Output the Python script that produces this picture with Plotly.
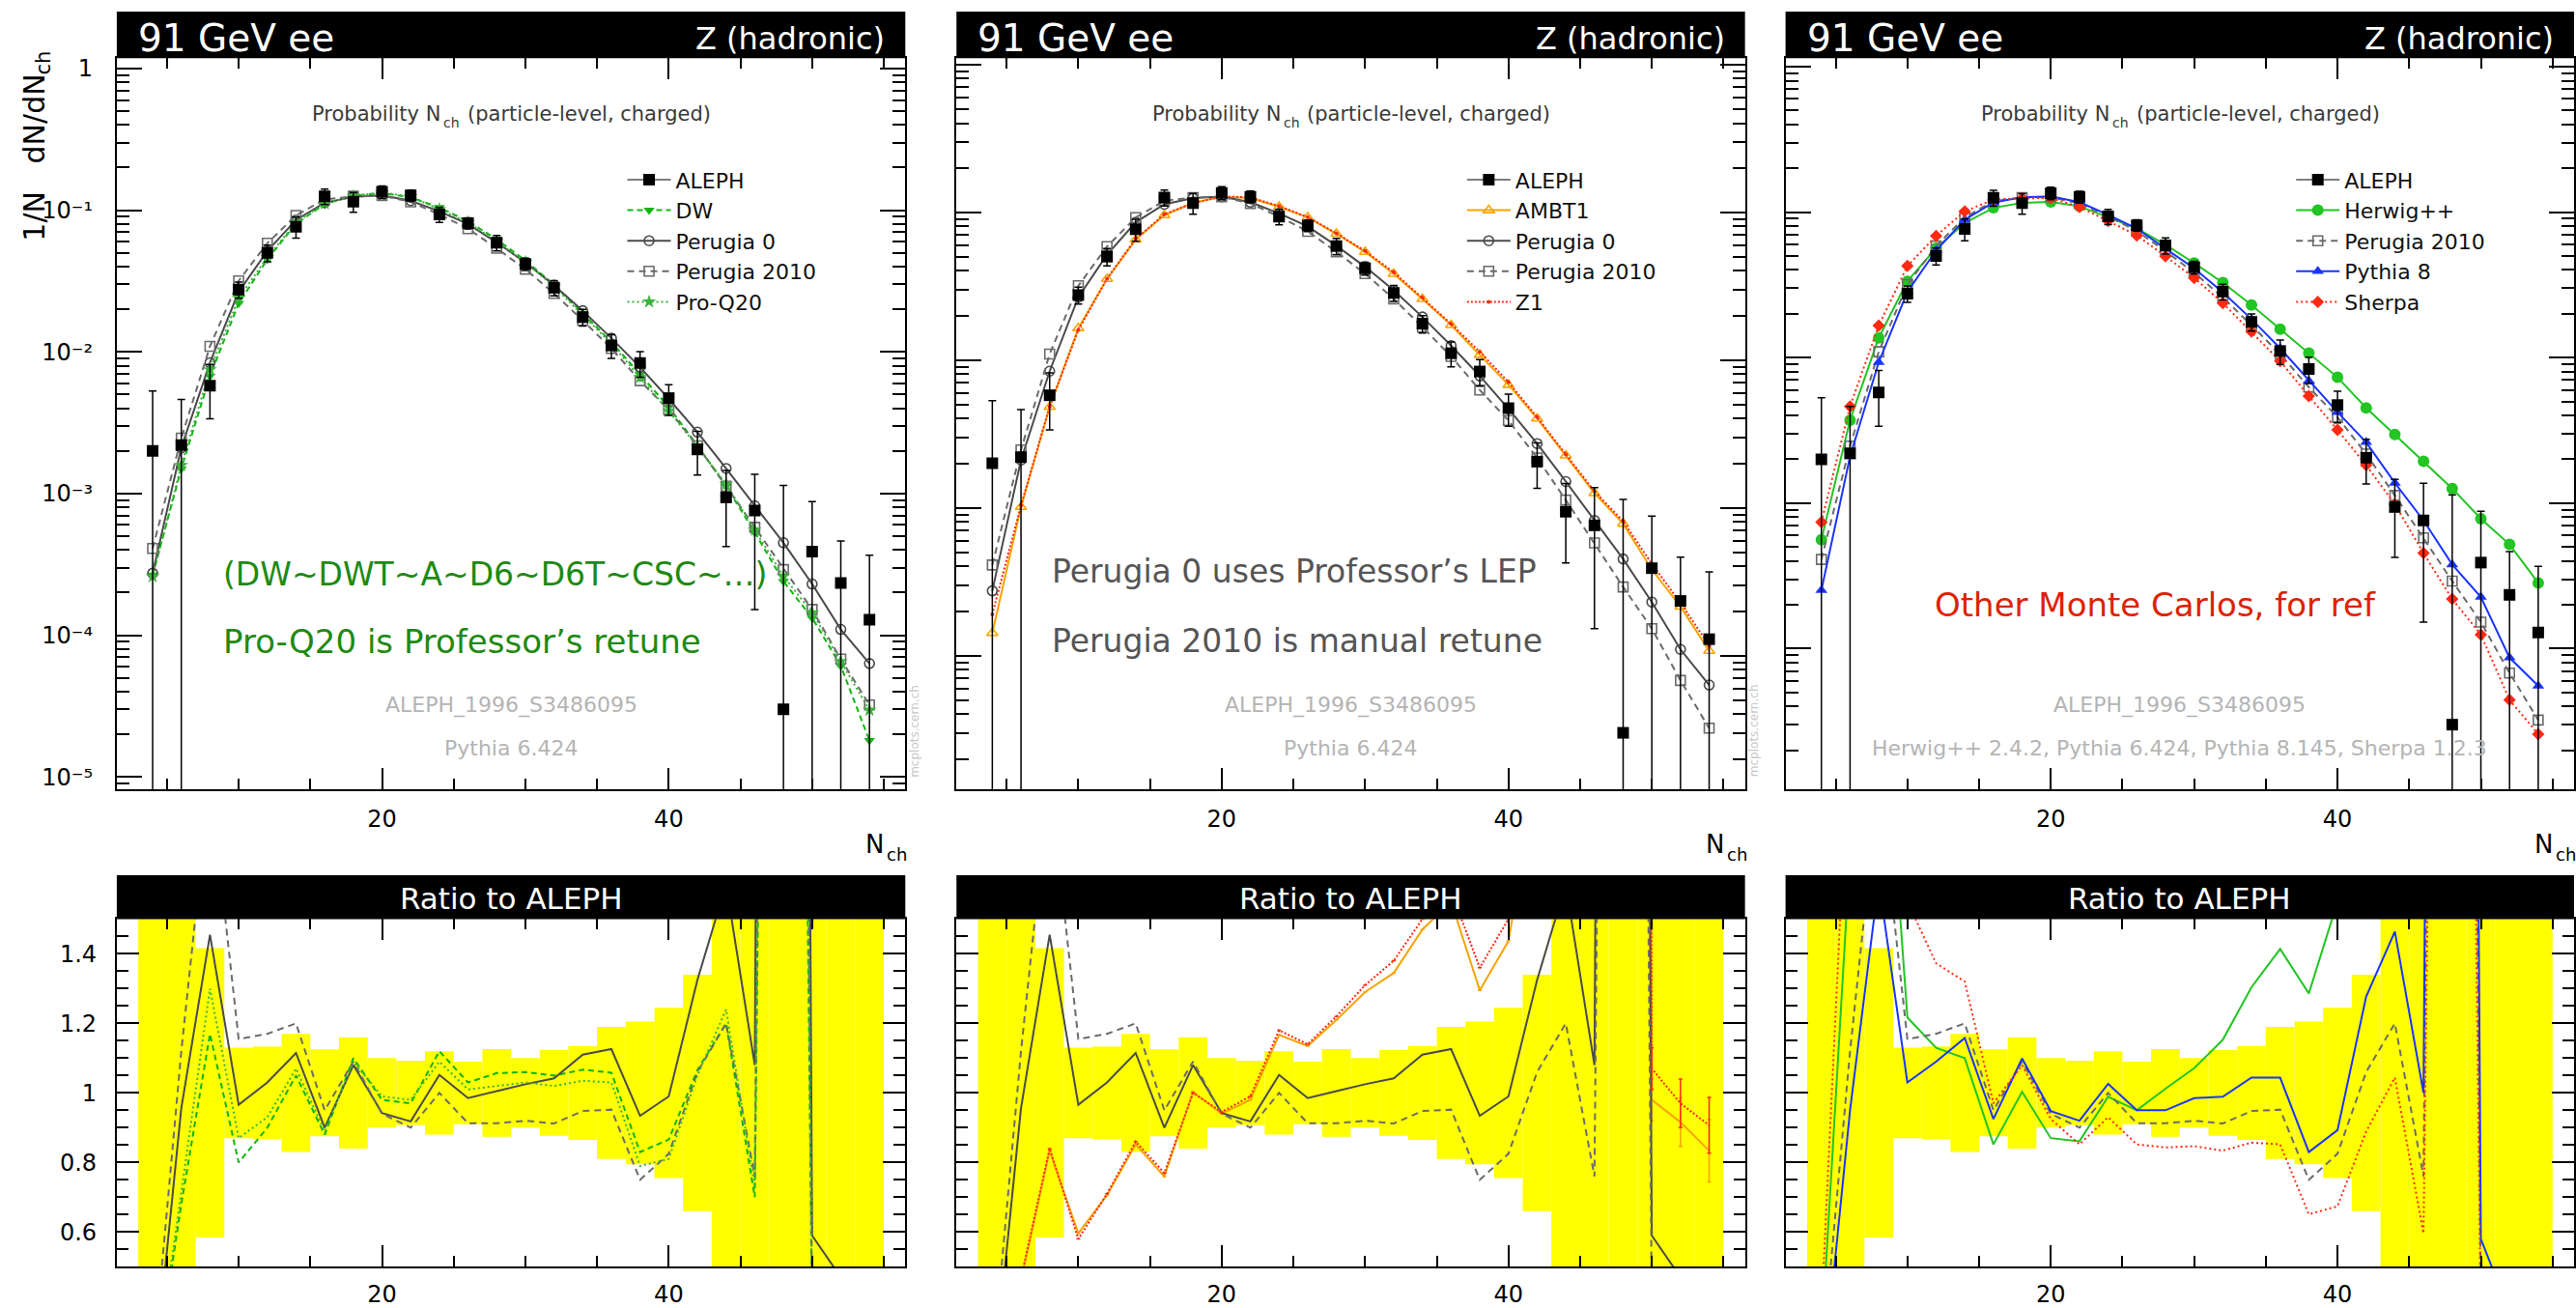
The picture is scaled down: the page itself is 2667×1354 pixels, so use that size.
import plotly.graph_objects as go

# ---------------------------------------------------------------- data
N_CH = [4, 6, 8, 10, 12, 14, 16, 18, 20, 22, 24, 26, 28,
        30, 32, 34, 36, 38, 40, 42, 44, 46, 48, 50, 52, 54]

# ALEPH 1/N dN/dNch and its relative uncertainty
ALEPH = [2.0e-3, 2.2e-3, 5.77e-3, 0.0275, 0.0500, 0.0766, 0.1256, 0.1152, 0.1351, 0.1272,
         0.0933, 0.0812, 0.0590, 0.0417, 0.0284, 0.0176, 0.0111, 0.00835, 0.00472, 0.00205,
         9.4e-4, 7.6e-4, 3.0e-5, 3.9e-4, 2.34e-4, 1.29e-4]
ALEPH_REL_ERR = [1.65, 1.10, 0.416, 0.13, 0.134, 0.17, 0.125, 0.16, 0.10, 0.093,
                 0.12, 0.09, 0.126, 0.10, 0.123, 0.135, 0.19, 0.205, 0.245, 0.34,
                 0.55, 0.80, 37.0, 1.25, 0.98, 1.85]

# generator predictions, expressed as MC / ALEPH
RATIO_DW = [0.133, 0.68, 1.17, 0.80, 0.90, 1.05, 0.88, 1.10, 0.98, 0.97,
            1.12, 1.03, 1.057, 1.06, 1.05, 1.067, 1.058, 0.83, 0.866, 1.066,
            1.20, 0.70, 8.0, 0.34, 0.26, 0.14]
RATIO_PROQ20 = [0.13, 0.72, 1.30, 0.87, 0.93, 1.07, 0.89, 1.09, 0.99, 0.98,
                1.09, 1.01, 1.02, 1.03, 1.02, 1.035, 1.03, 0.79, 0.81, 1.05,
                1.24, 0.73, 8.7, 0.37, 0.28, 0.23]
RATIO_P0 = [0.137, 0.956, 1.455, 0.966, 1.03, 1.115, 0.90, 1.08, 0.942, 0.918,
            1.052, 0.985, 1.005, 1.025, 1.042, 1.11, 1.126, 0.934, 0.99, 1.325,
            1.60, 1.08, 15.0, 0.59, 0.47, 0.49]
RATIO_P2010 = [0.205, 1.12, 1.90, 1.155, 1.17, 1.20, 0.95, 1.09, 0.94, 0.90,
               1.0, 0.913, 0.913, 0.92, 0.912, 0.948, 0.952, 0.75, 0.825, 1.06,
               1.20, 0.76, 9.7, 0.39, 0.29, 0.25]
RATIO_AMBT1 = [0.071, 0.46, 0.834, 0.596, 0.706, 0.852, 0.76, 1.003, 0.94, 0.98,
               1.167, 1.135, 1.21, 1.29, 1.345, 1.47, 1.55, 1.295, 1.437, 1.96,
               2.4, 1.65, 26.0, 0.98, 0.916, 0.834]
RATIO_Z1 = [0.095, 0.47, 0.84, 0.58, 0.71, 0.86, 0.77, 1.0, 0.945, 0.99,
            1.18, 1.14, 1.22, 1.31, 1.38, 1.5, 1.58, 1.36, 1.5, 2.0,
            2.45, 1.7, 27.0, 1.07, 0.97, 0.907]
RATIO_HERWIG = [0.28, 1.69, 2.37, 1.217, 1.13, 1.10, 0.852, 1.003, 0.87, 0.861,
                0.989, 0.95, 1.012, 1.071, 1.153, 1.304, 1.414, 1.286, 1.55, 2.2,
                3.15, 2.55, 42.0, 2.0, 2.22, 2.19]
RATIO_PYTHIA8 = [0.126, 0.95, 1.61, 1.03, 1.09, 1.158, 0.925, 1.099, 0.948, 0.92,
                 1.026, 0.95, 0.95, 0.985, 0.989, 1.044, 1.044, 0.83, 0.893, 1.277,
                 1.464, 1.0, 12.6, 0.58, 0.37, 0.43]
RATIO_SHERPA = [0.37, 2.1, 2.88, 1.55, 1.373, 1.32, 0.97, 1.08, 0.925, 0.852,
                0.93, 0.852, 0.843, 0.847, 0.834, 0.857, 0.852, 0.651, 0.674, 0.889,
                1.044, 0.596, 7.3, 0.32, 0.19, 0.20]

# MC statistical uncertainty on the ratio (only significant in the tail)
RATIO_ERR_AMBT1 = [0, 0, 0, 0, 0, 0, 0, 0, 0, 0, 0, 0, 0,
                   0, 0, 0, 0, 0, 0, 0, 0, 0, 0, 0.06, 0.07, 0.09]
RATIO_ERR_Z1 = [0, 0, 0, 0, 0, 0, 0, 0, 0, 0, 0, 0, 0,
                0, 0, 0, 0, 0, 0, 0, 0, 0, 0, 0.06, 0.07, 0.08]

X_TICKS = [20, 40]
LOG_TICKS = [1, 0.1, 0.01, 0.001, 1e-4, 1e-5]
LOG_TICK_TEXT = ["1", "10⁻¹", "10⁻²", "10⁻³", "10⁻⁴", "10⁻⁵"]
RATIO_TICKS = [0.6, 0.8, 1.0, 1.2, 1.4]
RATIO_TICK_TEXT = ["0.6", "0.8", "1", "1.2", "1.4"]

# ---------------------------------------------------------------- geometry (px)
W, H = 2667, 1354
FONT = "DejaVu Sans"
PANEL_X = [(121, 938), (991, 1808), (1850, 2667)]
MAIN_Y = (58, 823)
RATIO_Y = (959, 1323)
HEAD_MAIN = (9, 58)
HEAD_RATIO = (913, 959)
LOG_RANGES = [(-5.086, 0.0725), (-4.904, 0.041), (-4.966, 0.057)]
X_RANGE = [1.5, 56.5]


def fx(p):
    return p / W


def fy(p):
    return 1 - p / H


GRAY0 = "#4a4a4a"
GRAY1 = "#6b6b6b"
S_P0 = dict(name="Perugia 0", ratio=RATIO_P0, color=GRAY0, dash="solid",
            symbol="circle-open", size=10)
S_P2010 = dict(name="Perugia 2010", ratio=RATIO_P2010, color=GRAY1, dash="7px,5px",
               symbol="square-open", size=10)

PANELS = [
    dict(series=[
        dict(name="DW", ratio=RATIO_DW, color="#12b512", dash="6px,4px",
             symbol="triangle-down", size=10),
        S_P0, S_P2010,
        dict(name="Pro-Q20", ratio=RATIO_PROQ20, color="#3cb43c", dash="2px,3px",
             symbol="star", size=11),
    ], gen_text="Pythia 6.424",
        notes=[("(DW~DWT~A~D6~D6T~CSC~…)", 230, 598, "#1e8a12", 33),
               ("Pro-Q20 is Professor’s retune", 230, 668, "#1e8a12", 34)]),
    dict(series=[
        dict(name="AMBT1", ratio=RATIO_AMBT1, color="#f7a400", dash="solid",
             symbol="triangle-up-open", size=10, err=RATIO_ERR_AMBT1),
        S_P0, S_P2010,
        dict(name="Z1", ratio=RATIO_Z1, color="#ff2a12", dash="2px,2px",
             symbol="circle", size=4, err=RATIO_ERR_Z1),
    ], gen_text="Pythia 6.424",
        notes=[("Perugia 0 uses Professor’s LEP", 1089, 595, "#555555", 33),
               ("Perugia 2010 is manual retune", 1089, 668, "#555555", 33)]),
    dict(series=[
        dict(name="Herwig++", ratio=RATIO_HERWIG, color="#22c522", dash="solid",
             symbol="circle", size=12),
        S_P2010,
        dict(name="Pythia 8", ratio=RATIO_PYTHIA8, color="#1a34ff", dash="solid",
             symbol="triangle-up", size=11),
        dict(name="Sherpa", ratio=RATIO_SHERPA, color="#ff2a12", dash="2px,3px",
             symbol="diamond", size=10),
    ], gen_text="Herwig++ 2.4.2, Pythia 6.424, Pythia 8.145, Sherpa 1.2.3",
        notes=[("Other Monte Carlos, for ref", 2004, 630, "#dd2200", 34)]),
]

fig = go.Figure()
shapes = []
annotations = []
layout_axes = {}
LEGEND_X = [645, 1515, 2374]


def ann(text, x, y, size, color, xanchor="center", yanchor="middle", angle=0):
    annotations.append(dict(text=text, x=fx(x), y=fy(y), xref="paper", yref="paper",
                            showarrow=False, xanchor=xanchor, yanchor=yanchor,
                            textangle=angle, borderpad=0,
                            font=dict(family=FONT, size=size, color=color)))


def axis_name(kind, idx):
    return kind if idx == 1 else f"{kind}{idx}"


for i, panel in enumerate(PANELS):
    im, ir = 2 * i + 1, 2 * i + 2
    xm, ym = axis_name("x", im), axis_name("y", im)
    xr, yr = axis_name("x", ir), axis_name("y", ir)
    leg = "legend" if i == 0 else f"legend{i + 1}"
    x0, x1 = PANEL_X[i]
    xdom = [fx(x0), min(fx(x1), 1.0)]

    # ---- main panel: generator curves
    for rank, s in enumerate(panel["series"]):
        mc = [a * r for a, r in zip(ALEPH, s["ratio"])]
        open_sym = s["symbol"].endswith("open")
        fig.add_trace(go.Scatter(
            x=N_CH, y=mc, xaxis=xm, yaxis=ym, mode="lines+markers", name=s["name"],
            legend=leg, legendrank=10 + rank,
            line=dict(color=s["color"], width=2, dash=s["dash"]),
            marker=dict(symbol=s["symbol"], size=s["size"], color=s["color"],
                        line=dict(color=s["color"], width=1.6 if open_sym else 0)),
        ))

    # ---- main panel: ALEPH points with error bars
    fig.add_trace(go.Scatter(
        x=N_CH, y=ALEPH, xaxis=xm, yaxis=ym, mode="markers", showlegend=False,
        marker=dict(symbol="square", size=12, color="black"),
        error_y=dict(type="data", array=[a * e for a, e in zip(ALEPH, ALEPH_REL_ERR)],
                     color="black", thickness=1.5, width=4),
    ))
    fig.add_trace(go.Scatter(
        x=[None], y=[None], xaxis=xm, yaxis=ym, mode="lines+markers", name="ALEPH",
        legend=leg, legendrank=1,
        line=dict(color="black", width=1.2),
        marker=dict(symbol="square", size=12, color="black"),
    ))

    # ---- ratio panel: data uncertainty band
    fig.add_trace(go.Bar(
        x=N_CH, y=[2 * e for e in ALEPH_REL_ERR], base=[1 - e for e in ALEPH_REL_ERR],
        width=2, xaxis=xr, yaxis=yr, showlegend=False,
        marker=dict(color="#ffff00", line=dict(width=0)),
    ))
    for s in panel["series"]:
        err = s.get("err")
        fig.add_trace(go.Scatter(
            x=N_CH, y=s["ratio"], xaxis=xr, yaxis=yr, mode="lines", showlegend=False,
            line=dict(color=s["color"], width=2, dash=s["dash"]),
            error_y=(dict(type="data", array=err, color=s["color"], thickness=1.5, width=2)
                     if err else None),
        ))

    tickfont = dict(family=FONT, size=24, color="black")
    x_common = dict(range=X_RANGE, showline=True, linecolor="black", linewidth=2,
                    mirror="allticks", ticks="inside", ticklen=22, tickwidth=1.5,
                    tickcolor="black", tickmode="array", tickvals=X_TICKS,
                    ticktext=[str(v) for v in X_TICKS], tickfont=tickfont,
                    ticklabelstandoff=8, showgrid=False, zeroline=False,
                    minor=dict(tickmode="array", tickvals=[5, 10, 15, 25, 30, 35, 45, 50, 55],
                               ticks="inside", ticklen=11, tickwidth=1.5, tickcolor="black",
                               showgrid=False))
    log_minor = [k * 10.0 ** e for e in range(-6, 1) for k in range(2, 10)]
    layout_axes[f"xaxis{'' if im == 1 else im}"] = dict(
        x_common, domain=xdom, anchor=ym)
    layout_axes[f"yaxis{'' if im == 1 else im}"] = dict(
        type="log", range=list(LOG_RANGES[i]), domain=[fy(MAIN_Y[1]), fy(MAIN_Y[0])],
        anchor=xm, showline=True, linecolor="black", linewidth=2, mirror="allticks",
        ticks="inside", ticklen=26, tickwidth=1.5, tickcolor="black",
        tickmode="array", tickvals=LOG_TICKS, ticktext=LOG_TICK_TEXT,
        showticklabels=(i == 0), tickfont=tickfont, ticklabelstandoff=18,
        showgrid=False, zeroline=False,
        minor=dict(tickmode="array", tickvals=log_minor, ticks="inside", ticklen=13,
                   tickwidth=1.5, tickcolor="black", showgrid=False))
    layout_axes[f"xaxis{ir}"] = dict(x_common, domain=xdom, anchor=yr, ticklabelstandoff=6)
    layout_axes[f"yaxis{ir}"] = dict(
        range=[0.5, 1.5], domain=[fy(RATIO_Y[1]), fy(RATIO_Y[0])], anchor=xr,
        showline=True, linecolor="black", linewidth=2, mirror="allticks",
        ticks="inside", ticklen=23, tickwidth=1.5, tickcolor="black",
        tickmode="array", tickvals=RATIO_TICKS, ticktext=RATIO_TICK_TEXT,
        showticklabels=(i == 0), tickfont=tickfont, ticklabelstandoff=14,
        showgrid=False, zeroline=False,
        minor=dict(tickmode="array",
                   tickvals=[0.55, 0.65, 0.7, 0.75, 0.85, 0.9, 0.95, 1.05, 1.1, 1.15,
                             1.25, 1.3, 1.35, 1.45],
                   ticks="inside", ticklen=12, tickwidth=1.5, tickcolor="black",
                   showgrid=False))

    layout_axes[leg] = dict(
        x=fx(LEGEND_X[i]), y=fy(164), xanchor="left", yanchor="top",
        bgcolor="rgba(0,0,0,0)", borderwidth=0, itemwidth=45, tracegroupgap=0,
        font=dict(family=FONT, size=22, color="#111111"))

    # ---- black header bars
    for (h0, h1) in (HEAD_MAIN, HEAD_RATIO):
        shapes.append(dict(type="rect", xref="paper", yref="paper",
                           x0=fx(x0), x1=min(fx(x1), 1.0), y0=fy(h1), y1=fy(h0),
                           fillcolor="black", line=dict(width=0), layer="above"))
    ann("91 GeV ee", x0 + 21, 37, 39, "white", xanchor="left")
    ann("Z (hadronic)", x1 - 20, 37, 32, "white", xanchor="right")
    ann("Ratio to ALEPH", (x0 + x1) / 2, 937, 31, "white")

    # panel title with a subscripted N_ch
    cx = (x0 + x1) / 2
    p = cx - 72
    ann("Probability N", p, 116, 21, "#3a3a3a", xanchor="right")
    ann("ch", p + 1, 125, 14, "#3a3a3a", xanchor="left")
    ann("(particle-level, charged)", p + 26, 116, 21, "#3a3a3a", xanchor="left")

    ann("ALEPH_1996_S3486095", cx, 735, 22, "#b4b4b4")
    ann(panel["gen_text"], cx, 780, 22, "#b4b4b4")

    # x-axis title N_ch
    ann("N", x1 - 21, 881, 26, "black", xanchor="right")
    ann("ch", x1 - 20, 891, 18, "black", xanchor="left")

    for text, nx, ny, col, fs in panel["notes"]:
        ann(text, nx, ny, fs, col, xanchor="left")
    if x1 + 10 < W:
        ann("mcplots.cern.ch", x1 + 9, 762, 12, "#c8c8c8", angle=-90)

# y-axis title 1/N dN/dN_ch (rotated)
ann("1/N   dN/dN", 36, 250, 30, "black", yanchor="bottom", angle=-90)
ann("ch", 45, 76, 21, "black", yanchor="bottom", angle=-90)

fig.update_layout(
    width=W, height=H, margin=dict(l=0, r=0, t=0, b=0),
    paper_bgcolor="white", plot_bgcolor="white", barmode="overlay",
    shapes=shapes, annotations=annotations, **layout_axes,
)

fig.write_html("out.html")
